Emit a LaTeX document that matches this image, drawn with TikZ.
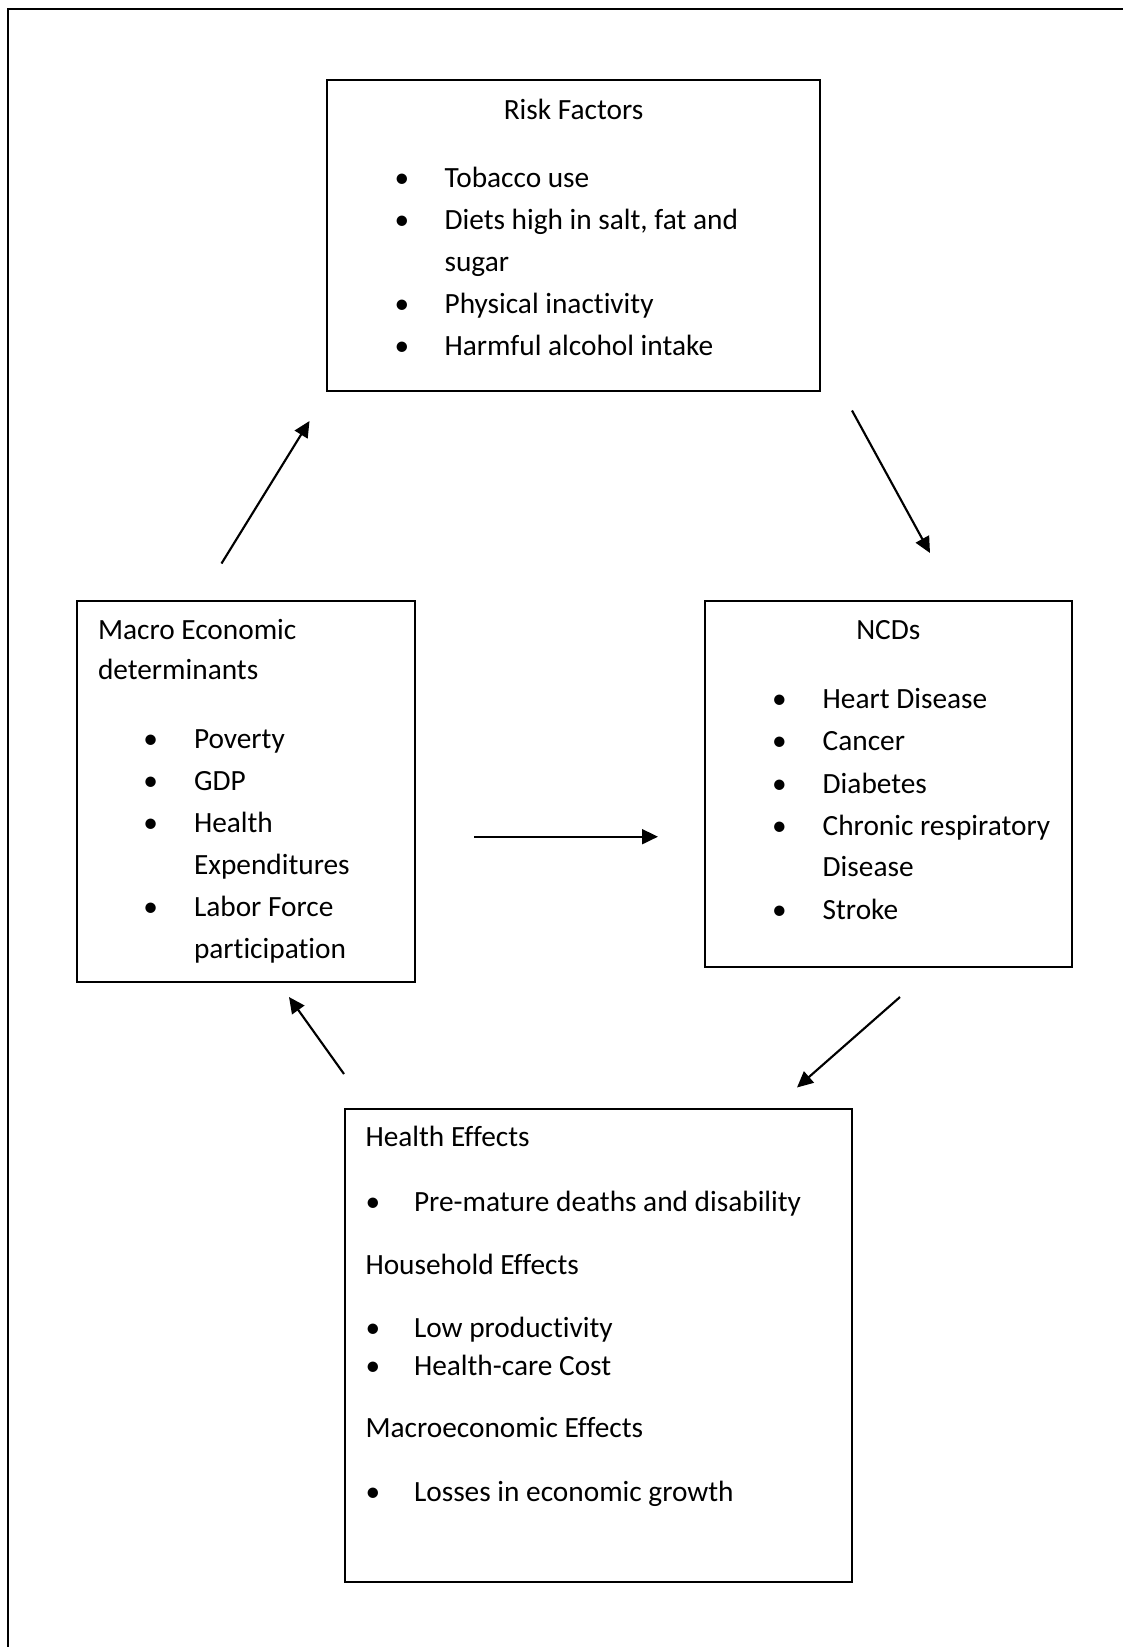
\documentclass[tikz,border=0pt]{standalone}
\usepackage{fontspec}
\setmainfont{Carlito}[Ligatures={NoCommon}]
\usetikzlibrary{arrows.meta}
\tikzset{
  box/.style={draw=black, line width=0.75pt, inner sep=0pt, outer sep=0pt, fill=none},
  txt/.style={anchor=base west, inner sep=0pt, outer sep=0pt, font=\fontsize{11pt}{13pt}\selectfont},
  ctxt/.style={anchor=base, inner sep=0pt, outer sep=0pt, font=\fontsize{11pt}{13pt}\selectfont},
  bul/.style={anchor=base, inner sep=0pt, outer sep=0pt, font=\fontsize{11pt}{13pt}\selectfont},
  arr/.style={line width=0.8pt, -{Triangle[length=6pt,width=5.6pt]}},
  frame/.style={line width=0.9pt}
}
\begin{document}
\begin{tikzpicture}[x=0.375pt, y=-0.375pt]
\useasboundingbox (0,0) rectangle (1123,1647);
% outer frame (only left and top visible)
\coordinate (fbl) at (7.8,1647);
\coordinate (ftl) at (7.8,9.2);
\coordinate (ftr) at (1123,9.2);
\draw[frame] (fbl) -- (ftl) -- (ftr);

% boxes
\node[box, minimum width={0.375pt*493}, minimum height={0.375pt*311}] (risk) at (573.5,235.5) {};
\node[box, minimum width={0.375pt*338}, minimum height={0.375pt*381.5}] (macro) at (246,791.25) {};
\node[box, minimum width={0.375pt*367}, minimum height={0.375pt*366}] (ncd) at (888.5,783.5) {};
\node[box, minimum width={0.375pt*507.5}, minimum height={0.375pt*473.5}] (health) at (598.25,1345.25) {};

% Risk Factors
\node[ctxt] (rt) at (573.5,119.3) {Risk Factors};
\node[bul] (rb1) at (402,187.7) {•};
\node[txt] (r1) at (444.6,187.7) {Tobacco use};
\node[bul] (rb2) at (402,229.7) {•};
\node[txt] (r2) at (444.6,229.7) {Diets high in salt, fat and};
\node[txt] (r2b) at (444.6,271.7) {sugar};
\node[bul] (rb3) at (402,313.7) {•};
\node[txt] (r3) at (444.6,313.7) {Physical inactivity};
\node[bul] (rb4) at (402,355.7) {•};
\node[txt] (r4) at (444.6,355.7) {Harmful alcohol intake};

% Macro Economic determinants
\node[txt] (mt1) at (98,639.3) {Macro Economic};
\node[txt] (mt2) at (98,679.5) {determinants};
\node[bul] (mb1) at (150.7,748.3) {•};
\node[txt] (m1) at (194,748.3) {Poverty};
\node[bul] (mb2) at (150.7,790.3) {•};
\node[txt] (m2) at (194,790.3) {GDP};
\node[bul] (mb3) at (150.7,832.3) {•};
\node[txt] (m3) at (194,832.3) {Health};
\node[txt] (m3b) at (194,874.3) {Expenditures};
\node[bul] (mb4) at (150.7,916.3) {•};
\node[txt] (m4) at (194,916.3) {Labor Force};
\node[txt] (m4b) at (194,958.3) {participation};

% NCDs
\node[ctxt] (nt) at (888.3,639.3) {NCDs};
\node[bul] (nb1) at (779.3,708.3) {•};
\node[txt] (n1) at (822.7,708.3) {Heart Disease};
\node[bul] (nb2) at (779.3,750.7) {•};
\node[txt] (n2) at (822.7,750.7) {Cancer};
\node[bul] (nb3) at (779.3,793.3) {•};
\node[txt] (n3) at (822.7,793.3) {Diabetes};
\node[bul] (nb4) at (779.3,835) {•};
\node[txt] (n4) at (822.7,835) {Chronic respiratory};
\node[txt] (n4b) at (822.7,876.7) {Disease};
\node[bul] (nb5) at (779.3,919.3) {•};
\node[txt] (n5) at (822.7,919.3) {Stroke};

% Health effects
\node[txt] (h1) at (365.5,1146.8) {Health Effects};
\node[bul] (hb1) at (373,1211.2) {•};
\node[txt] (h1a) at (414,1211.2) {Pre-mature deaths and disability};
\node[txt] (h2) at (365.5,1274.2) {Household Effects};
\node[bul] (hb2) at (373,1337.9) {•};
\node[txt] (h2a) at (414,1337.9) {Low productivity};
\node[bul] (hb3) at (373,1375.1) {•};
\node[txt] (h2b) at (414,1375.1) {Health-care Cost};
\node[txt] (h3) at (365.5,1437.1) {Macroeconomic Effects};
\node[bul] (hb4) at (373,1501.5) {•};
\node[txt] (h3a) at (414,1501.5) {Losses in economic growth};

% arrows
\coordinate (a1s) at (221.5,563.5);
\coordinate (a1e) at (309.5,421);
\coordinate (a2s) at (852,410.5);
\coordinate (a2e) at (930,553);
\coordinate (a3s) at (474,836.7);
\coordinate (a3e) at (658,836.7);
\coordinate (a4s) at (900,997);
\coordinate (a4e) at (797,1087.5);
\coordinate (a5s) at (344,1074);
\coordinate (a5e) at (289,997);
\draw[arr] (a1s) -- (a1e);
\draw[arr] (a2s) -- (a2e);
\draw[arr] (a3s) -- (a3e);
\draw[arr] (a4s) -- (a4e);
\draw[arr] (a5s) -- (a5e);
\end{tikzpicture}
\end{document}
